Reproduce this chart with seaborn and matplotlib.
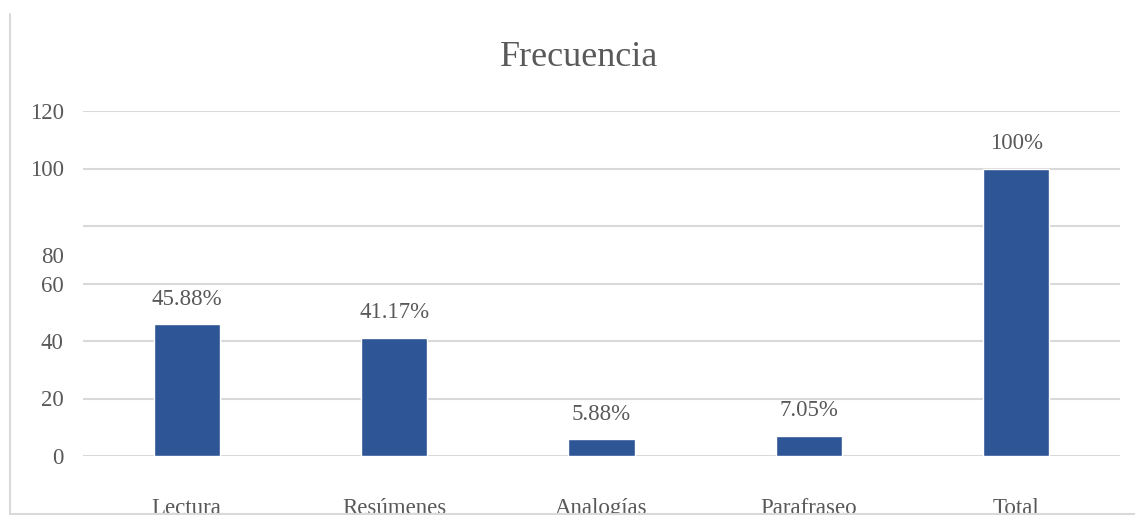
import pandas as pd
import matplotlib.pyplot as plt
import seaborn as sns
from matplotlib.lines import Line2D

categories = ['Lectura', 'Resúmenes', 'Analogías', 'Parafraseo', 'Total']
values = [45.88, 41.17, 5.88, 7.05, 100]
value_labels = ['45.88%', '41.17%', '5.88%', '7.05%', '100%']
grid_ticks = [0, 20, 40, 60, 80, 100, 120]
ytick_labels = ['0', '20', '40', '60', '80', '100', '120']
ytick_label_pos = [0, 20, 40, 60, 70, 100, 120]

df = pd.DataFrame({'categoria': categories, 'valor': values})

sns.set_style('white')
plt.rcParams['font.family'] = ['Liberation Serif', 'DejaVu Serif']
text_color = '#595959'
grid_color = '#D9D9D9'
bar_color = '#2E5596'

fig = plt.figure(figsize=(11.35, 5.15), dpi=100)
ax = fig.add_axes([83 / 1135, 59 / 515, 1037 / 1135, 345 / 515])

sns.barplot(x='categoria', y='valor', data=df, color=bar_color, width=0.32,
            saturation=1, ax=ax, zorder=3)

ax.set_ylim(0, 120)
ax.set_xlim(-0.5, len(categories) - 0.5)

# gridlines every 20, tick labels where the original put them
for g in grid_ticks:
    ax.axhline(g, color=grid_color, linewidth=1.5, zorder=0)
ax.set_yticks(ytick_label_pos)
ax.set_yticklabels(ytick_labels)
ax.tick_params(axis='y', length=0, pad=14, labelsize=16.5, labelcolor=text_color)
ax.tick_params(axis='x', length=0, pad=30, labelsize=16.5, labelcolor=text_color)
ax.set_xlabel('')
ax.set_ylabel('')
for s in ax.spines.values():
    s.set_visible(False)

for i, (v, lab) in enumerate(zip(values, value_labels)):
    ax.annotate(lab, (i, v), xytext=(0, 18), textcoords='offset points',
                ha='center', va='center', fontsize=16.5, color=text_color)

fig.text(579 / 1135, 1 - 57 / 515, 'Frecuencia', ha='center', va='center',
         fontsize=26, color=text_color)

# chart area border (left and bottom visible in the crop)
fig.add_artist(Line2D([10 / 1135, 10 / 1135], [0, 1 - 14 / 515],
                      transform=fig.transFigure, color=grid_color, linewidth=1.5))
fig.add_artist(Line2D([10 / 1135, 1], [1 / 515, 1 / 515],
                      transform=fig.transFigure, color=grid_color, linewidth=1.5))

fig.savefig('out.png', dpi=100)
